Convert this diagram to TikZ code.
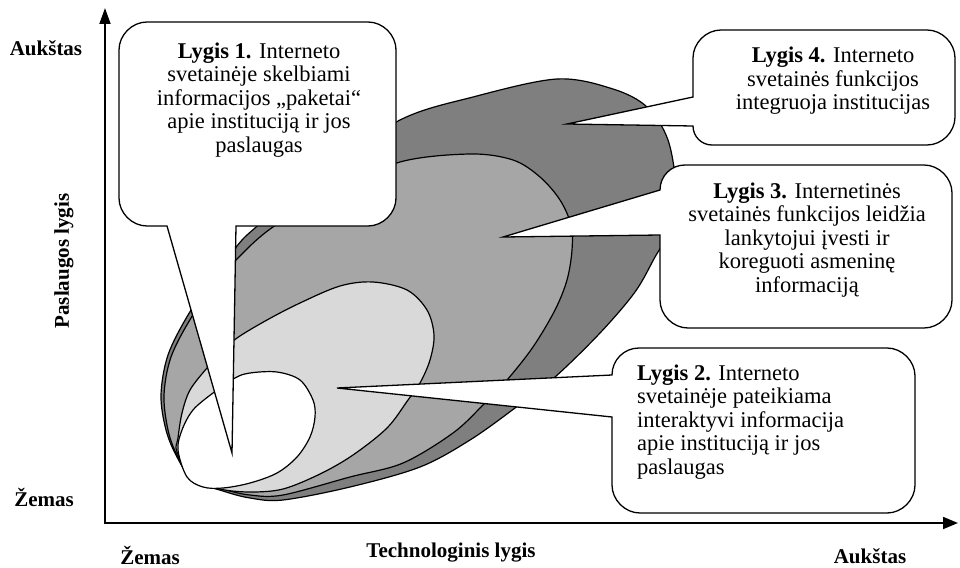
\documentclass[tikz,border=0pt]{standalone}
\usepackage{fontspec}
\setmainfont{Liberation Serif}
\usetikzlibrary{arrows.meta}
\definecolor{darkg}{HTML}{7F7F7F}
\definecolor{midg}{HTML}{A6A6A6}
\definecolor{lightg}{HTML}{D9D9D9}
\begin{document}
\begin{tikzpicture}[x=1pt,y=-1pt,
  blob/.style={draw=black, line width=1.2pt},
  callout/.style={draw=black, fill=white, line width=1.3pt, line join=miter},
  ctext/.style={font=\fontsize{22.5}{23.5}\selectfont, align=center, inner sep=0pt},
  axlab/.style={font=\fontsize{21}{24}\selectfont\bfseries, inner sep=0pt},
  axis/.style={line width=1.8pt, {Triangle[length=16pt,width=11pt]}-{Triangle[length=15pt,width=12pt]}}]
\useasboundingbox (0,0) rectangle (960,567);
% nested shapes
\filldraw[blob, fill=darkg] plot[smooth cycle, tension=0.55] coordinates {
 (177,457) (166,430) (161,395) (168,355) (188,315) (212,280) (237,246) (255,228)
 (320,174) (400,120) (473,97) (557,79) (613,89) (647,107) (668,140) (676,190)
 (670,230) (655,257) (635,292) (600,333) (555,377) (515,408) (470,440) (420,467)
 (350,487) (283,500) (250,498) (223,491) (193,480)};
\filldraw[blob, fill=midg] plot[smooth cycle, tension=0.55] coordinates {
 (177,455) (168,430) (164,395) (171,357) (191,318) (213,288) (237,259) (273,227)
 (335,192) (400,162) (470,154) (513,160) (540,177) (560,200) (571,225) (572,250)
 (567,280) (555,310) (533,347) (507,380) (483,405) (453,433) (403,463) (350,477)
 (283,495) (250,495) (223,489) (193,478)};
\filldraw[blob, fill=lightg] plot[smooth cycle, tension=0.55] coordinates {
 (177,452) (178,438) (182,413) (190,390) (207,368) (222,352) (237,338) (267,320)
 (300,303) (340,286) (373,282) (407,290) (427,310) (434,335) (430,360) (420,383)
 (408,400) (387,428) (353,455) (320,474) (283,489) (250,492) (220,489) (195,479)};
\filldraw[blob, fill=white] plot[smooth cycle, tension=0.55] coordinates {
 (178,450) (182,430) (193,410) (213,393) (235,378) (250,373) (277,372) (300,380)
 (313,400) (315,417) (310,437) (297,457) (277,473) (250,483) (223,488) (203,487)
 (187,477)};
% callouts
\draw[callout] (147,22) -- (368,22) .. controls (383,22) and (396,35) .. (396,50) -- (396,198)
  .. controls (396,213) and (383,226) .. (368,226) -- (236,226) -- (232,453) -- (167,226) -- (147,226)
  .. controls (132,226) and (119,213) .. (119,198) -- (119,50) .. controls (119,35) and (132,22) .. (147,22) -- cycle;
\draw[callout] (721,30) -- (927,30) .. controls (942,30) and (955,43) .. (955,58) -- (955,117)
  .. controls (955,132) and (942,145) .. (927,145) -- (712,145) .. controls (701.5,145) and (693,136.5) .. (693,126)
  -- (567,124) -- (693,97) -- (693,58) .. controls (693,43) and (706,30) .. (721,30) -- cycle;
\draw[callout] (685,165) -- (924,165) .. controls (939,165) and (952,178) .. (952,193) -- (952,300)
  .. controls (952,315) and (939,328) .. (924,328) -- (688,328) .. controls (673,328) and (660,315) .. (660,300)
  -- (660,235) -- (503,237) -- (660,190) .. controls (660,176) and (671,165) .. (685,165) -- cycle;
\draw[callout] (639,348) -- (887,348) .. controls (902,348) and (915,361) .. (915,376) -- (915,485)
  .. controls (915,500) and (902,513) .. (887,513) -- (640,513) .. controls (625,513) and (612,500) .. (612,485)
  -- (612,417) -- (337,388) -- (612,375) .. controls (612,360) and (624,348) .. (639,348) -- cycle;
% axes
\coordinate (ytop) at (105,8);
\coordinate (orig) at (105,523);
\coordinate (xend) at (958,523);
\draw[axis] (ytop) -- (orig) -- (xend);
% texts
\node[ctext] (t1) at (259,100) {\textbf{Lygis 1.} Interneto\\ svetainėje skelbiami\\ informacijos „paketai“\\ apie instituciją ir jos\\ paslaugas};
\node[ctext] (t4) at (833,81) {\textbf{Lygis 4.} Interneto\\ svetainės funkcijos\\ integruoja institucijas};
\node[ctext] (t3) at (807,240) {\textbf{Lygis 3.} Internetinės\\ svetainės funkcijos leidžia\\ lankytojui įvesti ir\\ koreguoti asmeninę\\ informaciją};
\node[ctext, align=left, anchor=west] (t2) at (637,422) {\textbf{Lygis 2.} Interneto\\ svetainėje pateikiama\\ interaktyvi informacija\\ apie instituciją ir jos\\ paslaugas};
\node[axlab] (yhigh) at (46,48) {Aukštas};
\node[axlab] (ylow) at (44,497) {Žemas};
\node[axlab, rotate=90] (ylab) at (64,261) {Paslaugos lygis};
\node[axlab] (xlow) at (150,555) {Žemas};
\node[axlab] (xlab) at (451,553) {Technologinis lygis};
\node[axlab] (xhigh) at (870,556) {Aukštas};
\end{tikzpicture}
\end{document}
